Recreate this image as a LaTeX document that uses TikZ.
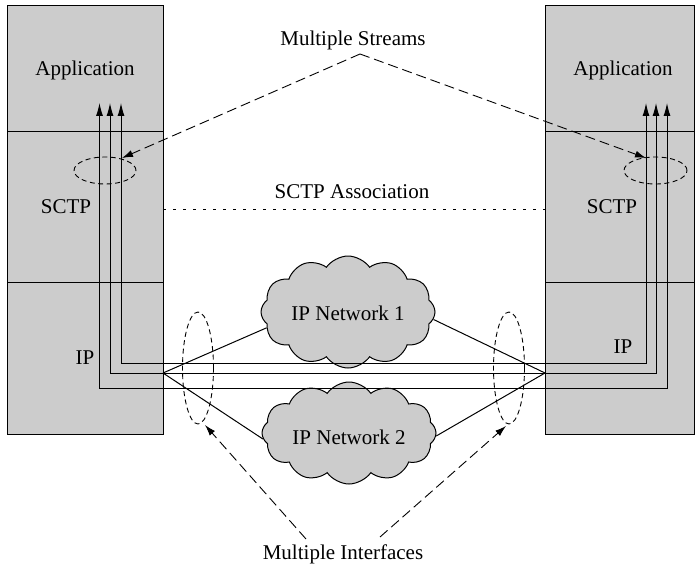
\documentclass[tikz,border=0pt]{standalone}
\usepackage{fontspec}
\setmainfont{Liberation Serif}
\usetikzlibrary{shapes.symbols,shapes.geometric,arrows.meta}
\definecolor{layergray}{RGB}{204,204,204}

\begin{document}
\begin{tikzpicture}[x=1pt,y=-1pt,
  font=\fontsize{21}{25}\selectfont,
  layerbox/.style={draw, fill=layergray, line width=1pt, inner sep=0pt},
  netcloud/.style={cloud, cloud puffs=12, cloud puff arc=110, aspect=1.6,
    draw, fill=layergray, line width=1pt, inner sep=0pt,
    minimum width=174pt, minimum height=#1},
  streamline/.style={line width=1pt, {Latex[length=13pt,width=7pt]}-{Latex[length=13pt,width=7pt]}},
  pointer/.style={dashed, dash pattern=on 10pt off 5pt, line width=0.9pt,
    -{Latex[length=11pt,width=7pt]}},
  groupring/.style={ellipse, draw, dash pattern=on 5pt off 3.5pt, line width=0.9pt, inner sep=0pt},
  link/.style={line width=1pt},
  txt/.style={inner sep=0pt}]

\useasboundingbox (0,0) rectangle (695,569);

% protocol stacks
\node[layerbox, minimum width=156pt, minimum height=126pt] (lapp) at (85,69) {};
\node[layerbox, minimum width=156pt, minimum height=150pt] (lsctp) at (85,207) {};
\node[layerbox, minimum width=156pt, minimum height=152pt] (lip) at (85,358) {};
\node[layerbox, minimum width=149pt, minimum height=126pt] (rapp) at (619.5,69) {};
\node[layerbox, minimum width=149pt, minimum height=150pt] (rsctp) at (619.5,207) {};
\node[layerbox, minimum width=149pt, minimum height=152pt] (rip) at (619.5,358) {};

\node[txt] (lapptxt) at (85,70) {Application};
\node[txt] (rapptxt) at (623,70) {Application};
\node[txt] (lsctptxt) at (66,207) {SCTP};
\node[txt] (rsctptxt) at (612,207) {SCTP};
\node[txt] (liptxt) at (85,358) {IP};
\node[txt] (riptxt) at (623,347) {IP};

% SCTP association
\coordinate (assocl) at (163,210);
\coordinate (assocr) at (545,210);
\draw[line width=1pt, dash pattern=on 2.5pt off 7.5pt] (assocl) -- (assocr);
\node[txt] (assoc) at (352,192) {SCTP Association};

% IP networks and the links to them
\coordinate (jl) at (163,373);
\coordinate (jr) at (545,373);
\node[netcloud=112pt] (net1) at (348,312) {};
\node[netcloud=102pt] (net2) at (349,433) {};
\draw[link] (jl) -- (net1.191);
\draw[link] (jl) -- (net2.184);
\draw[link] (jr) -- (net1.355);
\draw[link] (jr) -- (net2.358);
\node[txt] (net1txt) at (348,313) {IP Network 1};
\node[txt] (net2txt) at (349,437) {IP Network 2};

% stream groups
\node[groupring, minimum width=62pt, minimum height=27pt] (lstreams) at (105,170.5) {};
\node[groupring, minimum width=63pt, minimum height=27pt] (rstreams) at (655.5,170.5) {};

% streams from stack to stack
\coordinate (la) at (121,103); \coordinate (ra) at (646,103);
\coordinate (lb) at (110,103); \coordinate (rb) at (656,103);
\coordinate (lc) at (99.5,103); \coordinate (rc) at (667,103);
\draw[streamline] (la) -- (la |- 0,363) -- (ra |- 0,363) -- (ra);
\draw[streamline] (lb) -- (lb |- 0,373) -- (rb |- 0,373) -- (rb);
\draw[streamline] (lc) -- (lc |- 0,388) -- (rc |- 0,388) -- (rc);

% interface groups
\node[groupring, minimum width=31pt, minimum height=112pt] (lif) at (198,368) {};
\node[groupring, minimum width=31pt, minimum height=112pt] (rif) at (509,368) {};

% annotations
\node[txt] (ms) at (353,40) {Multiple Streams};
\coordinate (msapex) at (360,54);
\coordinate (lstip) at (122,158);
\coordinate (rstip) at (646,158);
\draw[pointer] (msapex) -- (lstip);
\draw[pointer] (msapex) -- (rstip);

\node[txt] (mi) at (343,554) {Multiple Interfaces};
\coordinate (mil) at (306,539);
\coordinate (mir) at (380,537);
\coordinate (liftip) at (205,425);
\coordinate (riftip) at (506,426);
\draw[pointer] (mil) -- (liftip);
\draw[pointer] (mir) -- (riftip);

\end{tikzpicture}
\end{document}
